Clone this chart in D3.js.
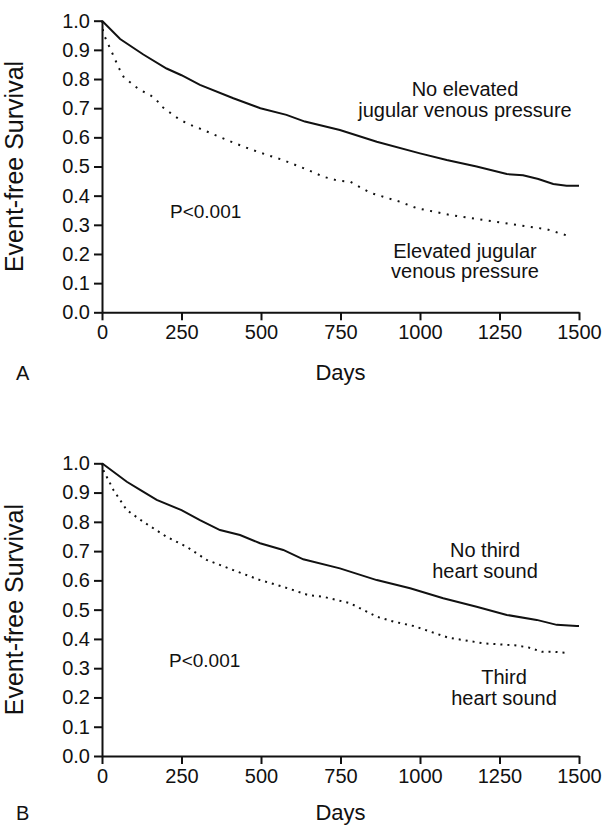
<!DOCTYPE html>
<html><head><meta charset="utf-8">
<script src="https://cdn.jsdelivr.net/npm/d3@7"></script>
<style>
body{margin:0;background:#fff;}
svg text{font-family:"Liberation Sans",Arial,sans-serif;fill:#111;}
</style></head>
<body><svg id="c" width="604" height="826"></svg>
<script>
// Panel A: jugular venous pressure
const daysA_no = [0, 57, 130, 203, 250, 308, 413, 498, 580, 638, 748, 864, 1000, 1084, 1178, 1273, 1324, 1372, 1419, 1461, 1500];
const survA_no = [1.0, 0.937, 0.884, 0.836, 0.813, 0.78, 0.734, 0.70, 0.677, 0.654, 0.625, 0.585, 0.545, 0.522, 0.50, 0.474, 0.47, 0.457, 0.44, 0.434, 0.434];
const daysA_el = [0, 4, 15, 36, 52, 69, 92, 113, 154, 173, 185, 207, 245, 292, 308, 360, 413, 465, 518, 570, 648, 696, 740, 780, 843, 937, 990, 1094, 1199, 1304, 1398, 1466];
const survA_el = [1.0, 0.957, 0.93, 0.88, 0.84, 0.805, 0.786, 0.767, 0.743, 0.726, 0.708, 0.69, 0.66, 0.636, 0.630, 0.606, 0.582, 0.56, 0.54, 0.522, 0.488, 0.465, 0.452, 0.448, 0.41, 0.379, 0.357, 0.334, 0.317, 0.30, 0.285, 0.262];
// Panel B: third heart sound
const daysB_no = [0, 78, 120, 172, 250, 308, 371, 434, 497, 570, 633, 748, 864, 969, 1073, 1178, 1273, 1367, 1430, 1493, 1500];
const survB_no = [1.0, 0.937, 0.909, 0.875, 0.84, 0.806, 0.772, 0.755, 0.727, 0.704, 0.672, 0.641, 0.601, 0.573, 0.539, 0.51, 0.482, 0.465, 0.448, 0.444, 0.444];
const daysB_s3 = [0, 4, 36, 78, 130, 203, 266, 329, 413, 497, 570, 648, 696, 780, 864, 917, 980, 1090, 1200, 1298, 1341, 1384, 1423, 1466];
const survB_s3 = [1.0, 0.977, 0.909, 0.84, 0.80, 0.749, 0.715, 0.67, 0.635, 0.601, 0.578, 0.55, 0.544, 0.522, 0.476, 0.459, 0.444, 0.404, 0.385, 0.378, 0.371, 0.356, 0.356, 0.352];

const xTicks = [0, 250, 500, 750, 1000, 1250, 1500];
const yTicks = [0.0, 0.1, 0.2, 0.3, 0.4, 0.5, 0.6, 0.7, 0.8, 0.9, 1.0];
const yTitle = "Event-free Survival";
const xTitle = "Days";
const pText = "P<0.001";

const svg = d3.select("#c");
const left = 102, right = 579;

function panel(cfg){
  const g = svg.append("g");
  const x = d3.scaleLinear().domain([0,1500]).range([left,right]);
  const y = d3.scaleLinear().domain([0,1]).range([cfg.bottom, cfg.top]);
  const line = d3.line().x(d=>x(d[0])).y(d=>y(d[1]));
  // curves
  g.append("path").datum(d3.zip(cfg.dNo, cfg.sNo)).attr("d", line)
    .attr("fill","none").attr("stroke","#111").attr("stroke-width",2);
  g.append("path").datum(d3.zip(cfg.dEv, cfg.sEv)).attr("d", line)
    .attr("fill","none").attr("stroke","#111").attr("stroke-width",2)
    .attr("stroke-dasharray",cfg.dash);
  // axes
  const xa = g.append("g").attr("transform",`translate(0,${cfg.bottom})`)
    .call(d3.axisBottom(x).tickValues(xTicks).tickSize(8).tickSizeOuter(0).tickPadding(5).tickFormat(d3.format("d")));
  const ya = g.append("g").attr("transform",`translate(${left},0)`)
    .call(d3.axisLeft(y).tickValues(yTicks).tickSize(8).tickSizeOuter(0).tickPadding(4).tickFormat(d3.format(".1f")));
  [xa,ya].forEach(a=>{
    a.select(".domain").attr("stroke","#111").attr("stroke-width",2);
    a.selectAll(".tick line").attr("stroke","#111").attr("stroke-width",2);
    a.selectAll(".tick text").attr("fill","#111").style("font-family","'Liberation Sans',Arial,sans-serif");
  });
  xa.selectAll(".tick text").style("font-size","20px");
  ya.selectAll(".tick text").style("font-size","20px");
  // titles
  g.append("text").attr("transform",`translate(23,${(cfg.top+cfg.bottom)/2}) rotate(-90)`)
    .attr("text-anchor","middle").style("font-size","25px").text(yTitle);
  g.append("text").attr("x",(left+right)/2).attr("y",cfg.bottom+cfg.titleGap)
    .attr("text-anchor","middle").style("font-size","22px").text(xTitle);
  g.append("text").attr("x",16).attr("y",cfg.bottom+cfg.titleGap).style("font-size","20px").text(cfg.letter);
  g.append("text").attr("x",cfg.pX).attr("y",cfg.pY).style("font-size","19px").text(pText);
  cfg.labels.forEach(l=>{
    g.append("text").attr("x",l[0]).attr("y",l[1]).attr("text-anchor","middle")
      .style("font-size","20px").text(l[2]);
  });
}

panel({top:20.7,bottom:312.3,dNo:daysA_no,sNo:survA_no,dEv:daysA_el,sEv:survA_el,letter:"A",
  dash:"2,6.5", pX:170,pY:218, titleGap:68,
  labels:[[465,96,"No elevated"],[465,117,"jugular venous pressure"],[465,258,"Elevated jugular"],[465,278,"venous pressure"]]});
panel({top:463.3,bottom:756,dNo:daysB_no,sNo:survB_no,dEv:daysB_s3,sEv:survB_s3,letter:"B",
  dash:"2,5", pX:169,pY:667, titleGap:64,
  labels:[[485,557,"No third"],[485,578,"heart sound"],[504,684,"Third"],[504,705,"heart sound"]]});
</script></body></html>
